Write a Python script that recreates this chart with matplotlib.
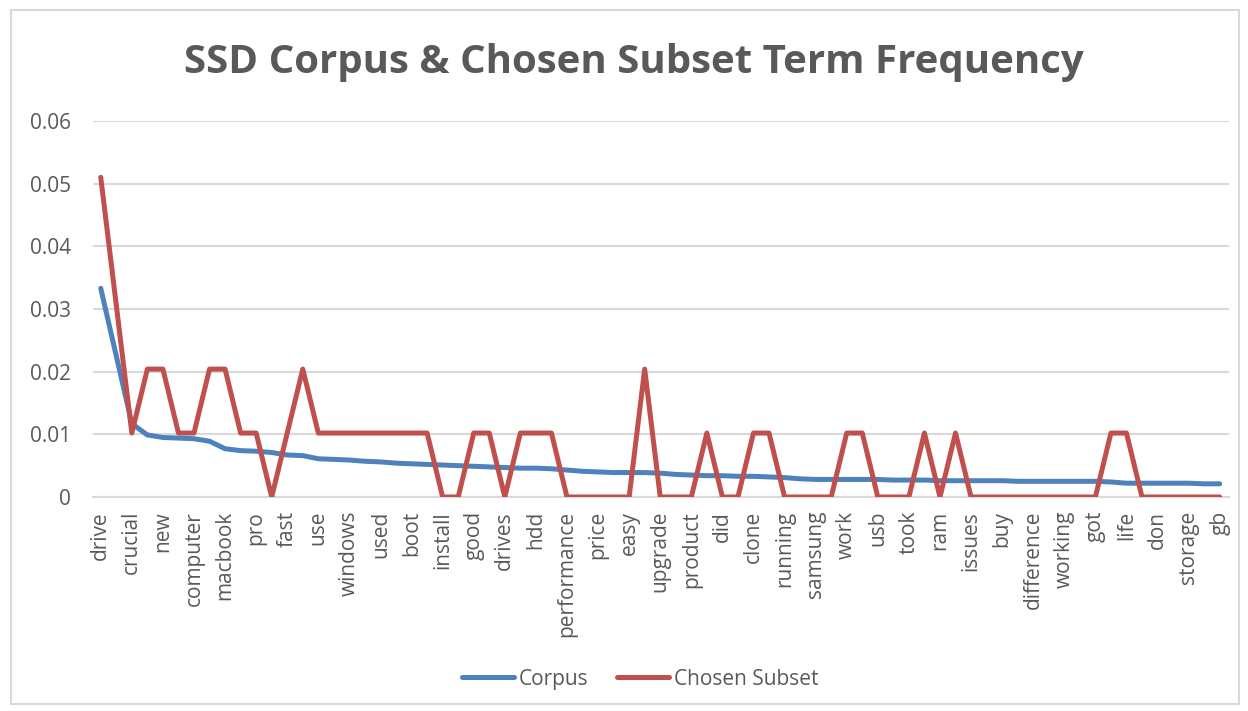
import matplotlib
matplotlib.use("Agg")
import matplotlib.pyplot as plt
import numpy as np
from matplotlib.patches import Rectangle

# Tick labels (every second term is labelled on the axis)
tick_terms = ["drive", "crucial", "new", "computer", "macbook", "pro", "fast", "use",
              "windows", "used", "boot", "install", "good", "drives", "hdd",
              "performance", "price", "easy", "upgrade", "product", "did", "clone",
              "running", "samsung", "work", "usb", "took", "ram", "issues", "buy",
              "difference", "working", "got", "life", "don", "storage", "gb"]

# Corpus term frequency (73 terms)
corpus = [0.0333, 0.0225, 0.0117, 0.0099, 0.0095, 0.0094, 0.0093, 0.0089, 0.0077, 0.0074,
          0.0073, 0.0071, 0.0067, 0.0066, 0.0061, 0.0060, 0.0059, 0.0057, 0.0056, 0.0054,
          0.0053, 0.0052, 0.0051, 0.0050, 0.0049, 0.0048, 0.0047, 0.0046, 0.0046, 0.0045,
          0.0043, 0.0041, 0.0040, 0.0039, 0.0039, 0.0039, 0.0038, 0.0036, 0.0035, 0.0034,
          0.0034, 0.0033, 0.0033, 0.0032, 0.0031, 0.0029, 0.0028, 0.0028, 0.0028, 0.0028,
          0.0028, 0.0027, 0.0027, 0.0027, 0.0026, 0.0026, 0.0026, 0.0026, 0.0026, 0.0025,
          0.0025, 0.0025, 0.0025, 0.0025, 0.0025, 0.0024, 0.0022, 0.0022, 0.0022, 0.0022,
          0.0022, 0.0021, 0.0021]

# Chosen subset term counts (subset of 98 terms)
subset_counts = [5, 3, 1, 2, 2, 1, 1, 2, 2, 1,
                 1, 0, 1, 2, 1, 1, 1, 1, 1, 1,
                 1, 1, 0, 0, 1, 1, 0, 1, 1, 1,
                 0, 0, 0, 0, 0, 2, 0, 0, 0, 1,
                 0, 0, 1, 1, 0, 0, 0, 0, 1, 1,
                 0, 0, 0, 1, 0, 1, 0, 0, 0, 0,
                 0, 0, 0, 0, 0, 1, 1, 0, 0, 0,
                 0, 0, 0]
subset_total = 98

plt.rcParams['font.family'] = ['Open Sans', 'DejaVu Sans']
text_color = '#595959'
grid_color = '#d9d9d9'

x = np.arange(len(corpus))
subset = np.array(subset_counts) / subset_total

fig = plt.figure(figsize=(12.48, 7.11), dpi=100)
ax = fig.add_axes([0.0745, 0.301, 0.9103, 0.5288])

ax.plot(x, corpus, color='#4f81bd', lw=3.6, solid_joinstyle='round',
        solid_capstyle='round', label='Corpus', zorder=3)
ax.plot(x, subset, color='#c0504d', lw=3.6, solid_joinstyle='round',
        solid_capstyle='round', label='Chosen Subset', zorder=4)

ax.set_ylim(0, 0.06)
ax.set_xlim(-0.5, 72.6)
ax.set_yticks(np.arange(0, 0.061, 0.01))
ax.set_yticklabels(['0', '0.01', '0.02', '0.03', '0.04', '0.05', '0.06'])
ax.set_xticks(np.arange(0, len(corpus), 2))
ax.set_xticklabels(tick_terms, rotation=90)
ax.tick_params(axis='y', length=0, pad=16, labelsize=15, labelcolor=text_color)
ax.tick_params(axis='x', length=0, pad=10, labelsize=15, labelcolor=text_color)
ax.grid(axis='y', color=grid_color, lw=1.5)
ax.set_axisbelow(True)
for s in ['top', 'right', 'left']:
    ax.spines[s].set_visible(False)
ax.spines['bottom'].set_color(grid_color)
ax.spines['bottom'].set_linewidth(1.5)

fig.text(0.508, 0.912, 'SSD Corpus & Chosen Subset Term Frequency', ha='center',
         va='center', fontsize=29, fontweight='bold', color=text_color)

leg = fig.legend(loc='center', bbox_to_anchor=(0.513, 0.045), ncol=2, frameon=False,
                 fontsize=15, handlelength=2.5, handletextpad=0.2, columnspacing=1.4)
for t in leg.get_texts():
    t.set_color(text_color)

# outer chart border
fig.patches.append(Rectangle((11 / 1248, 7 / 711), 1228 / 1248, 694 / 711,
                             transform=fig.transFigure, fill=False,
                             edgecolor=grid_color, lw=1.5))

fig.savefig('out.png', dpi=100, facecolor='white')
